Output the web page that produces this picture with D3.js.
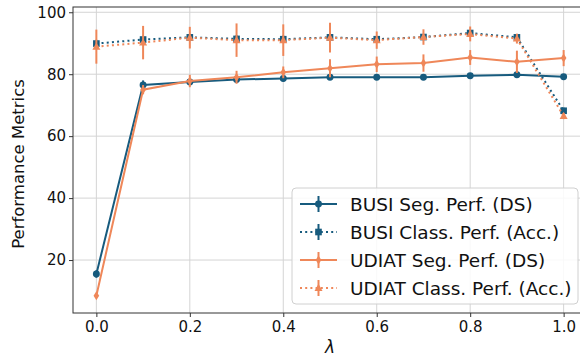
<!DOCTYPE html>
<html>
<head>
<meta charset="utf-8">
<script src="https://cdn.jsdelivr.net/npm/d3@7"></script>
<style>
  html, body { margin: 0; padding: 0; background: #fff; }
  svg { display: block; font-family: "DejaVu Sans", sans-serif; }
</style>
</head>
<body>
<svg id="chart" width="580" height="356"></svg>
<script>
// Lambda values on the x axis
const lambdas = [0.0, 0.1, 0.2, 0.3, 0.4, 0.5, 0.6, 0.7, 0.8, 0.9, 1.0];

// BUSI segmentation (Dice score) mean and spread
const busiSeg    = [15.5, 76.5, 77.5, 78.3, 78.6, 79.0, 79.0, 79.0, 79.5, 79.8, 79.2];
const busiSegErr = [1.2, 1.5, 1.0, 1.0, 0.9, 0.8, 0.8, 0.8, 0.8, 0.8, 0.8];

// BUSI classification (accuracy)
const busiCls    = [89.9, 91.2, 91.9, 91.4, 91.3, 91.9, 91.3, 92.0, 93.3, 91.9, 68.2];
const busiClsErr = [1.2, 1.2, 1.0, 1.2, 1.2, 1.2, 1.0, 1.0, 0.9, 1.0, 1.0];

// UDIAT segmentation (Dice score)
const udiatSeg    = [8.5, 75.0, 77.8, 79.0, 80.6, 81.9, 83.2, 83.6, 85.4, 84.0, 85.2];
const udiatSegErr = [0.3, 1.5, 2.0, 2.1, 1.9, 2.9, 2.5, 2.8, 2.4, 3.6, 2.6];

// UDIAT classification (accuracy)
const udiatCls    = [88.9, 90.2, 91.8, 91.0, 91.0, 91.8, 91.0, 92.0, 93.0, 91.5, 66.5];
const udiatClsErr = [5.5, 5.4, 3.5, 5.4, 5.1, 4.8, 2.8, 2.5, 2.4, 1.6, 1.0];

const xTicks = [0.0, 0.2, 0.4, 0.6, 0.8, 1.0];
const yTicks = [20, 40, 60, 80, 100];

const seriesNames = [
  "BUSI Seg. Perf. (DS)",
  "BUSI Class. Perf. (Acc.)",
  "UDIAT Seg. Perf. (DS)",
  "UDIAT Class. Perf. (Acc.)"
];

const BLUE = "#175b7e";
const ORANGE = "#ef8759";

const series = [
  { name: seriesNames[0], y: busiSeg,  err: busiSegErr,  color: BLUE,   dotted: false, marker: "circle" },
  { name: seriesNames[1], y: busiCls,  err: busiClsErr,  color: BLUE,   dotted: true,  marker: "square" },
  { name: seriesNames[2], y: udiatSeg, err: udiatSegErr, color: ORANGE, dotted: false, marker: "thindiamond" },
  { name: seriesNames[3], y: udiatCls, err: udiatClsErr, color: ORANGE, dotted: true,  marker: "triangle" }
];

const svg = d3.select("#chart");
const plot = { left: 73, top: 7, right: 587, bottom: 313 };

const x = d3.scaleLinear().domain([-0.05, 1.05]).range([plot.left, plot.right]);
const y = d3.scaleLinear().domain([2.9, 101.7]).range([plot.bottom, plot.top]);

// grid
const grid = svg.append("g").attr("class", "grid");
grid.selectAll("line.gx").data(xTicks).enter().append("line")
  .attr("x1", d => x(d)).attr("x2", d => x(d))
  .attr("y1", plot.top).attr("y2", plot.bottom)
  .attr("stroke", "#d4d4d4").attr("stroke-width", 1);
grid.selectAll("line.gy").data(yTicks).enter().append("line")
  .attr("x1", plot.left).attr("x2", plot.right)
  .attr("y1", d => y(d)).attr("y2", d => y(d))
  .attr("stroke", "#d4d4d4").attr("stroke-width", 1);

// axes
const xAxis = d3.axisBottom(x).tickValues(xTicks).tickFormat(d3.format(".1f")).tickSize(4).tickPadding(4);
const yAxis = d3.axisLeft(y).tickValues(yTicks).tickFormat(d3.format("d")).tickSize(4).tickPadding(3);

const gx = svg.append("g").attr("transform", `translate(0,${plot.bottom})`).call(xAxis);
const gy = svg.append("g").attr("transform", `translate(${plot.left},0)`).call(yAxis);
[gx, gy].forEach(g => {
  g.select(".domain").remove();
  g.selectAll(".tick line").attr("stroke", "#333").attr("stroke-width", 1);
  g.selectAll(".tick text").attr("fill", "#111").style("font-size", "15px")
    .style("font-family", "'DejaVu Sans', sans-serif");
});

// frame
svg.append("rect")
  .attr("x", plot.left).attr("y", plot.top)
  .attr("width", plot.right - plot.left).attr("height", plot.bottom - plot.top)
  .attr("fill", "none").attr("stroke", "#333").attr("stroke-width", 1);

// axis labels
svg.append("text")
  .attr("transform", `translate(24,${(plot.top + plot.bottom) / 2 + 4}) rotate(-90)`)
  .attr("text-anchor", "middle").style("font-size", "16.5px").attr("fill", "#111")
  .text("Performance Metrics");
svg.append("text")
  .attr("x", x(0.5)).attr("y", 353)
  .attr("text-anchor", "middle").style("font-size", "17px").style("font-style", "italic")
  .attr("fill", "#111").text("λ");

// marker shapes
function markerPath(kind) {
  switch (kind) {
    case "circle": return d3.symbol().type(d3.symbolCircle).size(38)();
    case "square": return d3.symbol().type(d3.symbolSquare).size(44)();
    case "triangle": return "M0,-4.2L4,3L-4,3Z";
    case "thindiamond": return "M0,-4.5L2.8,0L0,4.5L-2.8,0Z";
  }
}

svg.append("clipPath").attr("id", "plotclip")
  .append("rect").attr("x", plot.left).attr("y", plot.top)
  .attr("width", plot.right - plot.left).attr("height", plot.bottom - plot.top);

const line = d3.line().x(d => x(d[0])).y(d => y(d[1]));

const layer = svg.append("g").attr("clip-path", "url(#plotclip)");
series.forEach(s => {
  const pts = lambdas.map((l, i) => [l, s.y[i], s.err[i]]);
  const g = layer.append("g");
  g.append("path").datum(pts)
    .attr("d", line).attr("fill", "none")
    .attr("stroke", s.color).attr("stroke-width", 2)
    .attr("stroke-dasharray", s.dotted ? "2,3.2" : null);
  g.selectAll("line.err").data(pts).enter().append("line")
    .attr("x1", d => x(d[0])).attr("x2", d => x(d[0]))
    .attr("y1", d => y(d[1] - d[2])).attr("y2", d => y(d[1] + d[2]))
    .attr("stroke", s.color).attr("stroke-width", 2);
  g.selectAll("path.mk").data(pts).enter().append("path")
    .attr("d", markerPath(s.marker))
    .attr("transform", d => `translate(${x(d[0])},${y(d[1])})`)
    .attr("fill", s.color);
});

// legend
const leg = svg.append("g").attr("transform", "translate(292,188)");
leg.append("rect").attr("x", 0).attr("y", 0).attr("width", 286).attr("height", 116)
  .attr("rx", 4).attr("fill", "#fff").attr("fill-opacity", 0.85)
  .attr("stroke", "#d0d0d0").attr("stroke-width", 1);
series.forEach((s, i) => {
  const cy = 16 + i * 28;
  const row = leg.append("g").attr("transform", `translate(0,${cy})`);
  row.append("line").attr("x1", 8).attr("x2", 45).attr("y1", 0).attr("y2", 0)
    .attr("stroke", s.color).attr("stroke-width", 2)
    .attr("stroke-dasharray", s.dotted ? "2,3.2" : null);
  row.append("line").attr("x1", 26.5).attr("x2", 26.5).attr("y1", -8).attr("y2", 8)
    .attr("stroke", s.color).attr("stroke-width", 2);
  row.append("path").attr("d", markerPath(s.marker))
    .attr("transform", "translate(26.5,0)").attr("fill", s.color);
  row.append("text").attr("x", 58).attr("y", 6.5)
    .style("font-size", "18.5px").attr("fill", "#111").text(s.name);
});
</script>
</body>
</html>
